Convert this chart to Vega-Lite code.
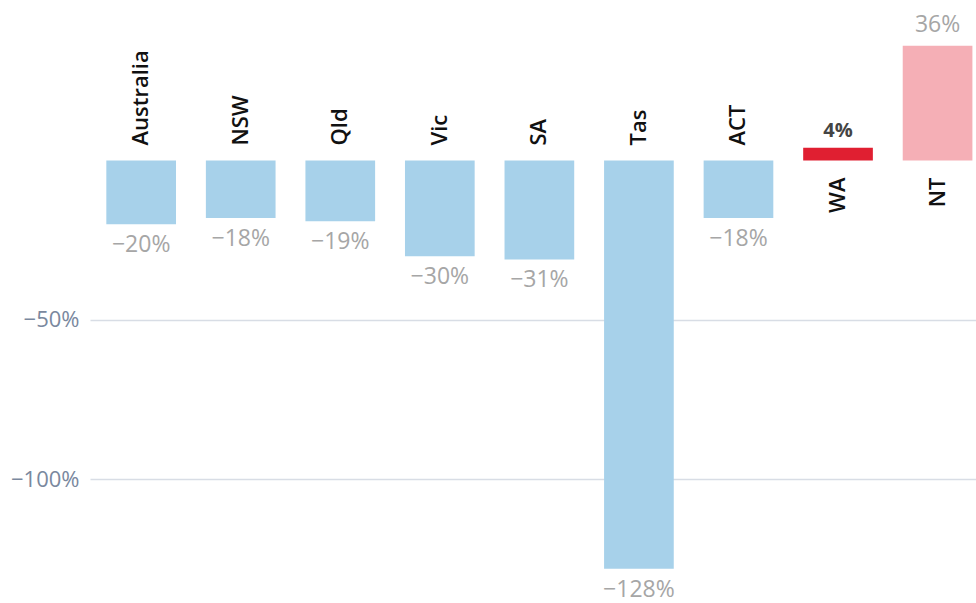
{
  "$schema": "https://vega.github.io/schema/vega-lite/v6.json",
  "width": 886,
  "height": 558,
  "autosize": {"type": "none"},
  "padding": {"left": 90, "top": 33, "right": 0, "bottom": 12},
  "background": "white",
  "config": {"view": {"stroke": null}, "font": "Open Sans"},
  "data": {
    "values": [
      {"state": "Australia", "value": -0.20},
      {"state": "NSW", "value": -0.18},
      {"state": "Qld", "value": -0.19},
      {"state": "Vic", "value": -0.30},
      {"state": "SA", "value": -0.31},
      {"state": "Tas", "value": -1.28},
      {"state": "ACT", "value": -0.18},
      {"state": "WA", "value": 0.04},
      {"state": "NT", "value": 0.36}
    ]
  },
  "encoding": {
    "x": {
      "field": "state",
      "type": "nominal",
      "sort": null,
      "axis": null,
      "scale": {"paddingInner": 0.3, "paddingOuter": 0.1, "align": 0.82}
    }
  },
  "layer": [
    {
      "mark": {"type": "bar"},
      "encoding": {
        "y": {
          "field": "value",
          "type": "quantitative",
          "scale": {"domain": [-1.35, 0.4], "nice": false, "zero": false},
          "axis": {
            "values": [-1, -0.5],
            "format": ".0%",
            "title": null,
            "domain": false,
            "ticks": false,
            "labelPadding": 11,
            "labelFontSize": 22,
            "labelColor": "#7a889e",
            "labelFont": "Open Sans",
            "gridColor": "#d8dde5",
            "gridWidth": 1.5
          }
        },
        "color": {
          "field": "state",
          "type": "nominal",
          "legend": null,
          "scale": {
            "domain": ["Australia", "NSW", "Qld", "Vic", "SA", "Tas", "ACT", "WA", "NT"],
            "range": ["#a7d1ea", "#a7d1ea", "#a7d1ea", "#a7d1ea", "#a7d1ea", "#a7d1ea", "#a7d1ea", "#e01f31", "#f5afb6"]
          }
        }
      }
    },
    {
      "mark": {"type": "rule", "color": "#6d7c96", "strokeWidth": 2},
      "encoding": {"y": {"datum": 0, "type": "quantitative"}}
    },
    {
      "transform": [{"filter": "datum.value < 0"}],
      "mark": {"type": "text", "angle": 270, "align": "left", "baseline": "middle", "dx": 15, "fontSize": 22, "fontWeight": 600, "color": "#111111"},
      "encoding": {"y": {"datum": 0, "type": "quantitative"}, "text": {"field": "state"}}
    },
    {
      "transform": [{"filter": "datum.value > 0"}],
      "mark": {"type": "text", "angle": 270, "align": "right", "baseline": "middle", "dx": -17, "fontSize": 22, "fontWeight": 600, "color": "#111111"},
      "encoding": {"y": {"datum": 0, "type": "quantitative"}, "text": {"field": "state"}}
    },
    {
      "transform": [{"filter": "datum.value < 0"}],
      "mark": {"type": "text", "align": "center", "baseline": "top", "dy": 10, "fontSize": 23, "color": "#a6a6a6"},
      "encoding": {"y": {"field": "value", "type": "quantitative"}, "text": {"field": "value", "format": ".0%"}}
    },
    {
      "transform": [{"filter": "datum.value > 0 && datum.state != 'WA'"}],
      "mark": {"type": "text", "align": "center", "baseline": "bottom", "dy": -9, "fontSize": 23, "color": "#a6a6a6"},
      "encoding": {"y": {"field": "value", "type": "quantitative"}, "text": {"field": "value", "format": ".0%"}}
    },
    {
      "transform": [{"filter": "datum.state == 'WA'"}],
      "mark": {"type": "text", "align": "center", "baseline": "bottom", "dy": -7, "fontSize": 20, "fontWeight": "bold", "color": "#444444"},
      "encoding": {"y": {"field": "value", "type": "quantitative"}, "text": {"field": "value", "format": ".0%"}}
    }
  ]
}
